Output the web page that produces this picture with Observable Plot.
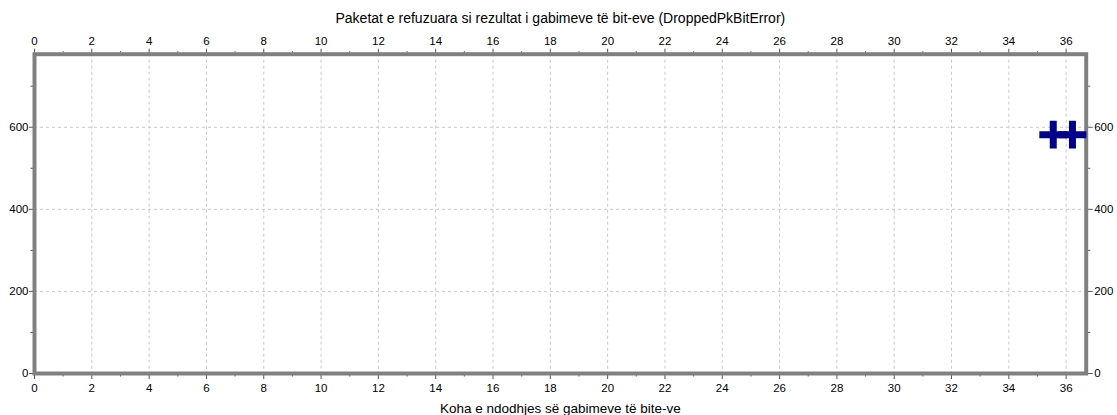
<!DOCTYPE html>
<html>
<head>
<meta charset="utf-8">
<script src="https://cdn.jsdelivr.net/npm/d3@7"></script>
<script src="https://cdn.jsdelivr.net/npm/@observablehq/plot@0.6"></script>
<style>
  html, body { margin: 0; padding: 0; background: #fff; }
</style>
</head>
<body>
<div id="chart"></div>
<script>
// Dropped packets caused by bit errors, plotted against time of occurrence
const dropTimes = [35.55, 36.22];
const dropCounts = [582, 582];

const xMajorTicks = [0, 2, 4, 6, 8, 10, 12, 14, 16, 18, 20, 22, 24, 26, 28, 30, 32, 34, 36];
const xMinorTicks = [1, 3, 5, 7, 9, 11, 13, 15, 17, 19, 21, 23, 25, 27, 29, 31, 33, 35];
const yMajorTicks = [0, 200, 400, 600];
const yMinorTicks = [100, 300, 500, 700];

const titleText = "Paketat e refuzuara si rezultat i gabimeve të bit-eve (DroppedPkBitError)";
const xLabelText = "Koha e ndodhjes së gabimeve të bite-ve";

const points = dropTimes.map((t, i) => ({time: t, count: dropCounts[i]}));

const frameColor = "#808080";
const gridStyle = {stroke: "#c8c8c8", strokeOpacity: 1, strokeDasharray: "3,3", strokeWidth: 1};
const noText = () => "";

const chart = Plot.plot({
  width: 1117,
  height: 415,
  marginLeft: 34,
  marginRight: 31.3,
  marginTop: 53.7,
  marginBottom: 42,
  style: {fontFamily: "'Liberation Sans', Arial, sans-serif", fontSize: "11.5px", color: "#000", background: "#fff"},
  x: {domain: [0, 36.7]},
  y: {domain: [0, 778]},
  marks: [
    Plot.gridX(xMajorTicks, gridStyle),
    Plot.gridY(yMajorTicks, gridStyle),
    // major ticks with labels on all four sides
    Plot.axisX(xMajorTicks, {anchor: "top", tickSize: 6, tickPadding: 3, label: null, stroke: "#555"}),
    Plot.axisX(xMajorTicks, {anchor: "bottom", tickSize: 6, tickPadding: 4, label: null, stroke: "#555"}),
    Plot.axisY(yMajorTicks, {anchor: "left", tickSize: 5, tickPadding: 1, label: null, stroke: "#555"}),
    Plot.axisY(yMajorTicks, {anchor: "right", tickSize: 6, tickPadding: 2, label: null, stroke: "#555"}),
    // minor ticks
    Plot.axisX(xMinorTicks, {anchor: "top", tickSize: 3.5, tickFormat: noText, label: null, stroke: "#555"}),
    Plot.axisX(xMinorTicks, {anchor: "bottom", tickSize: 3.5, tickFormat: noText, label: null, stroke: "#555"}),
    Plot.axisY(yMinorTicks, {anchor: "left", tickSize: 3.5, tickFormat: noText, label: null, stroke: "#555"}),
    Plot.axisY(yMinorTicks, {anchor: "right", tickSize: 3.5, tickFormat: noText, label: null, stroke: "#555"}),
    Plot.frame({stroke: frameColor, strokeWidth: 4}),
    // title and axis label
    Plot.text([titleText], {frameAnchor: "top", dy: -36, lineAnchor: "middle", fontSize: 14, fill: "#000"}),
    Plot.text([xLabelText], {frameAnchor: "bottom", dy: 35, lineAnchor: "middle", fontSize: 13.5, fill: "#000"}),
    // dropped-packet events
    Plot.dot(points, {x: "time", y: "count", symbol: "plus", r: 9, stroke: "#00008b", strokeWidth: 7})
  ]
});

document.getElementById("chart").appendChild(chart);
</script>
</body>
</html>
